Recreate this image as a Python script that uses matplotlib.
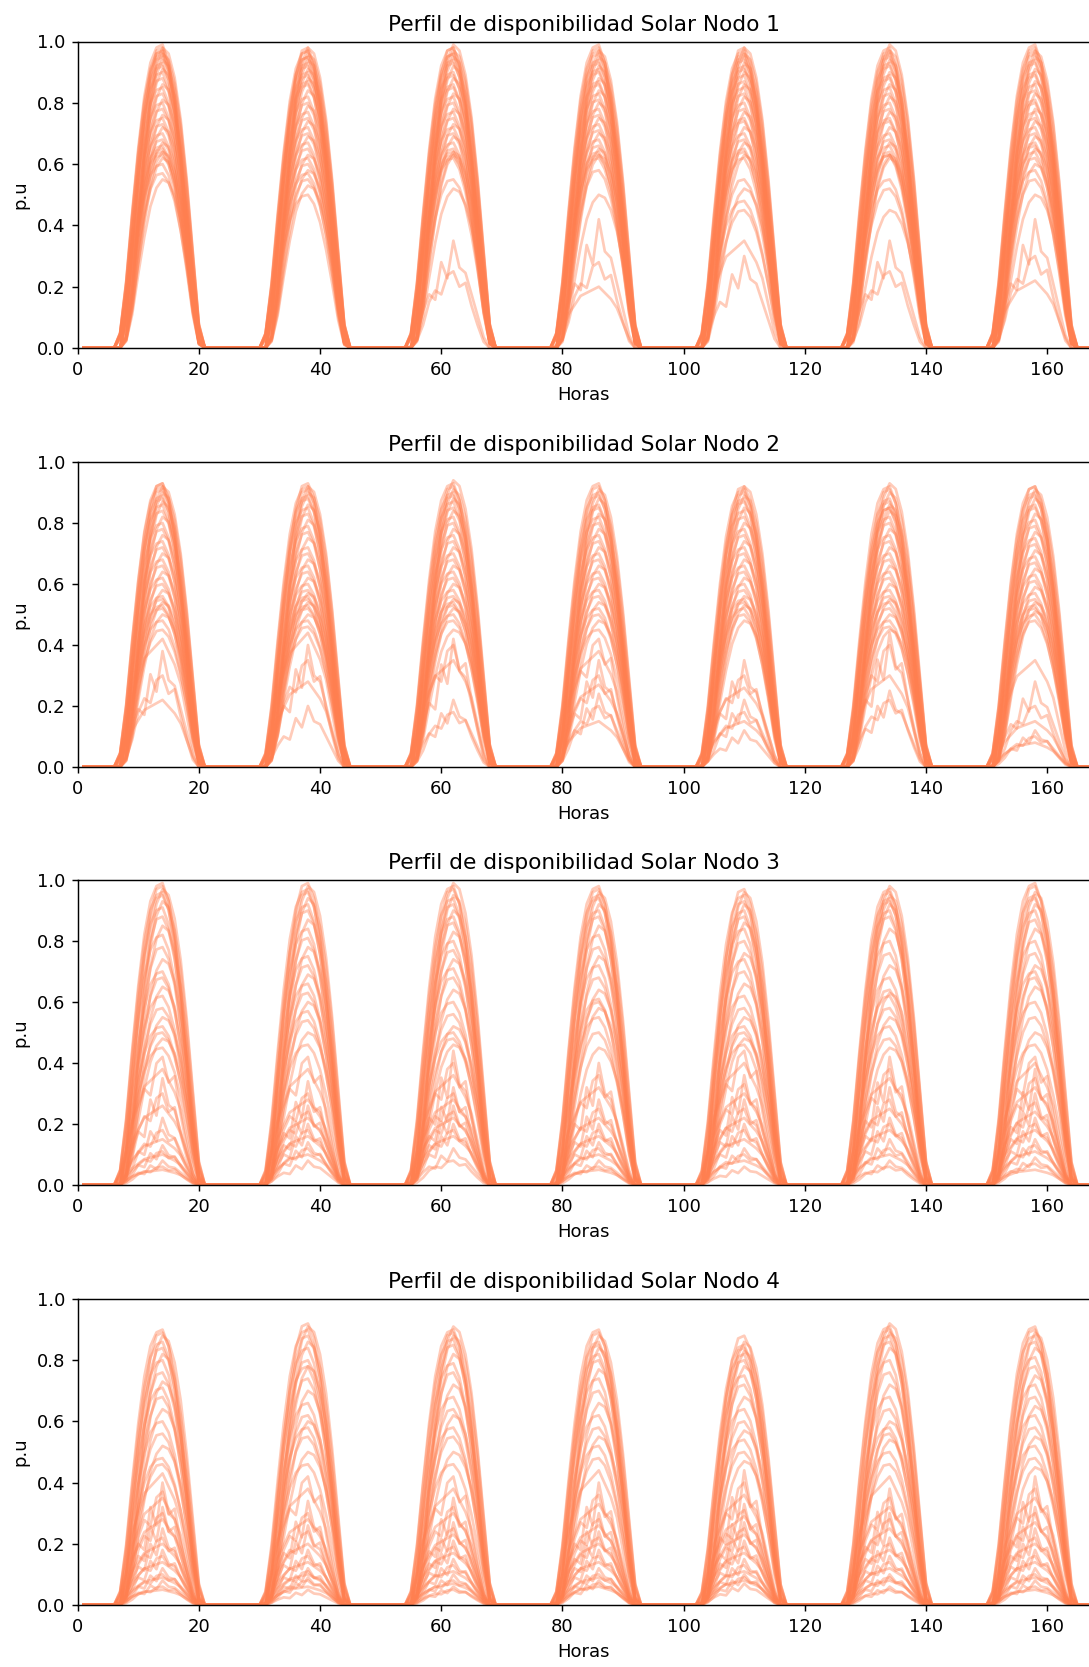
import numpy as np
import matplotlib
matplotlib.use("Agg")
import matplotlib.pyplot as plt

# hours of the week (1..168)
hours = np.arange(1, 169)

# typical daily shapes (hour of day 1..24), normalized to peak = 1
shape_early = [0, 0, 0, 0, 0, 0, 0.05, 0.22, 0.45, 0.66, 0.83, 0.94, 0.99, 1.00,
               0.94, 0.82, 0.64, 0.42, 0.18, 0.02, 0, 0, 0, 0]
shape_mid = [0, 0, 0, 0, 0, 0, 0, 0.12, 0.36, 0.58, 0.77, 0.91, 0.99, 1.00,
             0.95, 0.84, 0.67, 0.46, 0.22, 0.03, 0, 0, 0, 0]
shape_late = [0, 0, 0, 0, 0, 0, 0, 0.04, 0.20, 0.44, 0.66, 0.84, 0.95, 1.00,
              0.98, 0.90, 0.76, 0.56, 0.32, 0.08, 0, 0, 0, 0]
# cloudy days
cloud_a = [0, 0, 0, 0, 0, 0, 0.02, 0.15, 0.35, 0.50, 0.45, 0.80, 0.65, 1.00,
           0.75, 0.70, 0.50, 0.30, 0.10, 0, 0, 0, 0, 0]
cloud_b = [0, 0, 0, 0, 0, 0, 0, 0.10, 0.30, 0.60, 0.75, 0.70, 0.95, 1.00,
           0.80, 0.85, 0.55, 0.30, 0.08, 0, 0, 0, 0, 0]
cloud_c = [0, 0, 0, 0, 0, 0, 0.05, 0.30, 0.55, 0.70, 0.85, 0.90, 0.95, 1.00,
           0.90, 0.80, 0.65, 0.40, 0.15, 0, 0, 0, 0, 0]

# daily peak (p.u) of each scenario, one list per day
peaks_n1 = [
    [0.99, 0.98, 0.98, 0.97, 0.97, 0.96, 0.96, 0.95, 0.94, 0.93, 0.92, 0.91, 0.90, 0.88, 0.86, 0.85, 0.83, 0.81,
     0.80, 0.78, 0.76, 0.75, 0.73, 0.72, 0.70, 0.68, 0.67, 0.66, 0.65, 0.64, 0.64, 0.63, 0.62, 0.60, 0.57, 0.55],
    [0.98, 0.98, 0.97, 0.97, 0.96, 0.95, 0.95, 0.94, 0.93, 0.92, 0.91, 0.90, 0.89, 0.88, 0.87, 0.86, 0.84, 0.82,
     0.80, 0.79, 0.77, 0.75, 0.74, 0.72, 0.70, 0.69, 0.67, 0.65, 0.63, 0.62, 0.60, 0.58, 0.57, 0.55, 0.53, 0.50],
    [0.99, 0.98, 0.98, 0.97, 0.96, 0.96, 0.95, 0.94, 0.93, 0.92, 0.90, 0.89, 0.88, 0.86, 0.85, 0.83, 0.82, 0.80,
     0.78, 0.77, 0.75, 0.73, 0.72, 0.70, 0.69, 0.67, 0.65, 0.64, 0.64, 0.63, 0.63, 0.62, 0.55, 0.52, 0.35, 0.25],
    [0.99, 0.98, 0.97, 0.97, 0.96, 0.95, 0.94, 0.93, 0.92, 0.91, 0.90, 0.88, 0.87, 0.86, 0.84, 0.83, 0.81, 0.80,
     0.78, 0.76, 0.75, 0.73, 0.71, 0.70, 0.68, 0.66, 0.65, 0.64, 0.63, 0.63, 0.62, 0.58, 0.50, 0.42, 0.28, 0.20],
    [0.98, 0.98, 0.97, 0.96, 0.96, 0.95, 0.94, 0.93, 0.92, 0.91, 0.90, 0.89, 0.87, 0.86, 0.85, 0.83, 0.82, 0.80,
     0.78, 0.77, 0.75, 0.74, 0.72, 0.70, 0.68, 0.67, 0.65, 0.64, 0.63, 0.62, 0.55, 0.52, 0.48, 0.45, 0.35, 0.30],
    [0.99, 0.98, 0.97, 0.97, 0.96, 0.95, 0.94, 0.93, 0.92, 0.90, 0.89, 0.88, 0.86, 0.85, 0.83, 0.82, 0.80, 0.78,
     0.77, 0.75, 0.74, 0.72, 0.70, 0.68, 0.67, 0.66, 0.64, 0.63, 0.63, 0.63, 0.62, 0.55, 0.52, 0.45, 0.35, 0.25],
    [0.99, 0.98, 0.97, 0.97, 0.96, 0.95, 0.94, 0.93, 0.91, 0.90, 0.89, 0.87, 0.86, 0.84, 0.83, 0.81, 0.80, 0.78,
     0.77, 0.75, 0.74, 0.72, 0.70, 0.69, 0.67, 0.66, 0.65, 0.64, 0.62, 0.60, 0.58, 0.55, 0.50, 0.42, 0.30, 0.22],
]
peaks_n2 = [
    [0.93, 0.93, 0.92, 0.92, 0.91, 0.90, 0.89, 0.88, 0.87, 0.86, 0.84, 0.82, 0.80, 0.78, 0.76, 0.74, 0.72, 0.70,
     0.68, 0.66, 0.64, 0.62, 0.60, 0.58, 0.56, 0.55, 0.54, 0.53, 0.52, 0.50, 0.48, 0.45, 0.42, 0.38, 0.30, 0.22],
    [0.93, 0.92, 0.92, 0.91, 0.90, 0.89, 0.88, 0.86, 0.85, 0.83, 0.81, 0.79, 0.77, 0.75, 0.72, 0.70, 0.68, 0.66,
     0.64, 0.62, 0.60, 0.58, 0.57, 0.56, 0.55, 0.54, 0.53, 0.52, 0.50, 0.48, 0.46, 0.44, 0.40, 0.35, 0.28, 0.20],
    [0.94, 0.93, 0.92, 0.91, 0.90, 0.89, 0.88, 0.87, 0.85, 0.84, 0.82, 0.80, 0.78, 0.76, 0.74, 0.72, 0.70, 0.68,
     0.66, 0.64, 0.62, 0.60, 0.58, 0.56, 0.55, 0.54, 0.53, 0.52, 0.50, 0.48, 0.45, 0.42, 0.40, 0.35, 0.22, 0.18],
    [0.93, 0.92, 0.91, 0.90, 0.89, 0.88, 0.86, 0.85, 0.83, 0.82, 0.80, 0.78, 0.76, 0.74, 0.72, 0.70, 0.68, 0.66,
     0.64, 0.62, 0.60, 0.58, 0.56, 0.54, 0.52, 0.50, 0.48, 0.45, 0.42, 0.38, 0.35, 0.30, 0.27, 0.24, 0.20, 0.15],
    [0.92, 0.92, 0.91, 0.90, 0.89, 0.88, 0.87, 0.85, 0.84, 0.82, 0.80, 0.78, 0.76, 0.74, 0.72, 0.70, 0.68, 0.66,
     0.64, 0.62, 0.60, 0.58, 0.56, 0.55, 0.54, 0.53, 0.52, 0.50, 0.48, 0.35, 0.30, 0.26, 0.22, 0.18, 0.15, 0.12],
    [0.93, 0.92, 0.91, 0.90, 0.88, 0.87, 0.86, 0.85, 0.85, 0.84, 0.82, 0.80, 0.78, 0.76, 0.74, 0.72, 0.70, 0.68,
     0.66, 0.64, 0.62, 0.60, 0.58, 0.56, 0.55, 0.54, 0.52, 0.50, 0.48, 0.46, 0.45, 0.44, 0.40, 0.30, 0.25, 0.22],
    [0.92, 0.92, 0.91, 0.90, 0.89, 0.88, 0.86, 0.85, 0.83, 0.81, 0.79, 0.77, 0.75, 0.73, 0.71, 0.69, 0.67, 0.65,
     0.63, 0.61, 0.59, 0.57, 0.55, 0.54, 0.53, 0.52, 0.51, 0.50, 0.48, 0.35, 0.28, 0.20, 0.15, 0.12, 0.10, 0.08],
]
peaks_n3 = [
    [0.99, 0.98, 0.97, 0.96, 0.95, 0.93, 0.91, 0.88, 0.85, 0.82, 0.78, 0.74, 0.70, 0.68, 0.65, 0.62, 0.58, 0.55,
     0.52, 0.50, 0.48, 0.45, 0.42, 0.38, 0.35, 0.30, 0.26, 0.22, 0.18, 0.15, 0.13, 0.11, 0.10, 0.08, 0.06, 0.05],
    [0.99, 0.98, 0.97, 0.96, 0.94, 0.92, 0.90, 0.87, 0.84, 0.81, 0.78, 0.75, 0.72, 0.69, 0.66, 0.63, 0.60, 0.57,
     0.54, 0.50, 0.46, 0.42, 0.38, 0.34, 0.30, 0.28, 0.26, 0.24, 0.22, 0.20, 0.18, 0.16, 0.14, 0.12, 0.10, 0.08],
    [0.99, 0.98, 0.97, 0.95, 0.94, 0.92, 0.90, 0.88, 0.86, 0.83, 0.80, 0.77, 0.74, 0.71, 0.68, 0.64, 0.60, 0.56,
     0.52, 0.50, 0.48, 0.46, 0.44, 0.40, 0.36, 0.32, 0.30, 0.28, 0.26, 0.24, 0.22, 0.20, 0.18, 0.16, 0.12, 0.08],
    [0.98, 0.97, 0.96, 0.95, 0.94, 0.92, 0.90, 0.88, 0.85, 0.82, 0.78, 0.75, 0.72, 0.68, 0.64, 0.61, 0.60, 0.58,
     0.55, 0.50, 0.45, 0.40, 0.36, 0.32, 0.28, 0.25, 0.22, 0.20, 0.18, 0.16, 0.14, 0.12, 0.10, 0.08, 0.06, 0.05],
    [0.97, 0.96, 0.95, 0.93, 0.92, 0.90, 0.88, 0.86, 0.84, 0.80, 0.76, 0.74, 0.70, 0.66, 0.62, 0.58, 0.55, 0.52,
     0.50, 0.48, 0.46, 0.44, 0.40, 0.36, 0.33, 0.30, 0.28, 0.25, 0.22, 0.20, 0.18, 0.15, 0.12, 0.10, 0.08, 0.06],
    [0.98, 0.97, 0.96, 0.95, 0.94, 0.93, 0.92, 0.90, 0.88, 0.84, 0.80, 0.76, 0.72, 0.68, 0.64, 0.63, 0.62, 0.58,
     0.55, 0.52, 0.48, 0.45, 0.42, 0.38, 0.35, 0.32, 0.28, 0.25, 0.22, 0.20, 0.18, 0.15, 0.12, 0.10, 0.08, 0.06],
    [0.99, 0.98, 0.96, 0.95, 0.94, 0.92, 0.90, 0.87, 0.84, 0.80, 0.76, 0.72, 0.70, 0.68, 0.65, 0.60, 0.55, 0.50,
     0.46, 0.42, 0.40, 0.38, 0.35, 0.32, 0.30, 0.27, 0.24, 0.22, 0.20, 0.18, 0.15, 0.13, 0.11, 0.09, 0.07, 0.05],
]
peaks_n4 = [
    [0.90, 0.89, 0.88, 0.86, 0.84, 0.82, 0.80, 0.76, 0.73, 0.71, 0.68, 0.64, 0.60, 0.56, 0.52, 0.48, 0.46, 0.43,
     0.40, 0.37, 0.35, 0.32, 0.30, 0.28, 0.25, 0.22, 0.20, 0.18, 0.16, 0.14, 0.12, 0.10, 0.09, 0.08, 0.06, 0.05],
    [0.92, 0.91, 0.90, 0.88, 0.86, 0.84, 0.80, 0.78, 0.78, 0.74, 0.70, 0.66, 0.62, 0.60, 0.58, 0.55, 0.50, 0.46,
     0.42, 0.38, 0.34, 0.30, 0.28, 0.26, 0.24, 0.20, 0.18, 0.16, 0.14, 0.12, 0.11, 0.10, 0.09, 0.08, 0.06, 0.05],
    [0.91, 0.90, 0.89, 0.88, 0.87, 0.85, 0.82, 0.79, 0.76, 0.72, 0.68, 0.64, 0.62, 0.58, 0.55, 0.50, 0.46, 0.42,
     0.38, 0.35, 0.32, 0.30, 0.27, 0.25, 0.23, 0.21, 0.19, 0.17, 0.15, 0.13, 0.11, 0.10, 0.08, 0.07, 0.06, 0.05],
    [0.90, 0.89, 0.88, 0.86, 0.85, 0.84, 0.82, 0.80, 0.77, 0.74, 0.70, 0.66, 0.62, 0.58, 0.55, 0.52, 0.48, 0.44,
     0.40, 0.36, 0.33, 0.30, 0.28, 0.26, 0.24, 0.22, 0.20, 0.18, 0.16, 0.14, 0.12, 0.10, 0.09, 0.08, 0.07, 0.06],
    [0.88, 0.86, 0.85, 0.84, 0.83, 0.82, 0.80, 0.78, 0.75, 0.72, 0.68, 0.64, 0.60, 0.57, 0.54, 0.50, 0.47, 0.44,
     0.40, 0.36, 0.33, 0.31, 0.29, 0.27, 0.25, 0.23, 0.21, 0.19, 0.17, 0.15, 0.13, 0.11, 0.10, 0.09, 0.08, 0.07],
    [0.92, 0.91, 0.90, 0.89, 0.88, 0.86, 0.84, 0.80, 0.76, 0.72, 0.68, 0.64, 0.60, 0.58, 0.56, 0.54, 0.50, 0.46,
     0.42, 0.38, 0.35, 0.32, 0.30, 0.28, 0.25, 0.22, 0.20, 0.18, 0.16, 0.14, 0.12, 0.10, 0.09, 0.08, 0.06, 0.05],
    [0.91, 0.90, 0.89, 0.88, 0.86, 0.84, 0.81, 0.78, 0.75, 0.72, 0.68, 0.65, 0.62, 0.58, 0.55, 0.52, 0.48, 0.45,
     0.42, 0.38, 0.35, 0.32, 0.30, 0.27, 0.25, 0.22, 0.20, 0.18, 0.16, 0.14, 0.12, 0.10, 0.09, 0.08, 0.06, 0.05],
]

node_names = ["Nodo 1", "Nodo 2", "Nodo 3", "Nodo 4"]
node_peaks = [peaks_n1, peaks_n2, peaks_n3, peaks_n4]

clear_shapes = [np.array(shape_early), np.array(shape_mid), np.array(shape_late)]
cloud_shapes = [np.array(cloud_a), np.array(cloud_b), np.array(cloud_c)]


def scenario_profile(peaks, j):
    days = []
    for d, day_peaks in enumerate(peaks):
        p = day_peaks[j]
        if p < 0.45:
            shp = cloud_shapes[(j + d) % 3]
        else:
            shp = clear_shapes[(j + d) % 3]
        days.append(p * shp)
    return np.concatenate(days)


fig = plt.figure(figsize=(1089 / 130, 1667 / 130), dpi=130)
W = 1089.0
H = 1667.0
tops = [41.5, 462, 880, 1299]
bottoms = [348, 767, 1185, 1605]

for k in range(4):
    ax = fig.add_axes([77.7 / W, 1 - bottoms[k] / H, (1089.6 - 77.7) / W, (bottoms[k] - tops[k]) / H])
    peaks = node_peaks[k]
    n = min(len(p) for p in peaks)
    for j in range(n):
        ax.plot(hours, scenario_profile(peaks, j), color="coral", alpha=0.4, lw=1.5)
    ax.set_xlim(0, 167)
    ax.set_ylim(0, 1)
    ax.set_xticks(np.arange(0, 161, 20))
    ax.set_yticks(np.arange(0, 1.01, 0.2))
    ax.spines["right"].set_visible(False)
    ax.set_title("Perfil de disponibilidad Solar " + node_names[k])
    ax.set_xlabel("Horas")
    ax.set_ylabel("p.u")

fig.savefig("out.png", dpi=130)
